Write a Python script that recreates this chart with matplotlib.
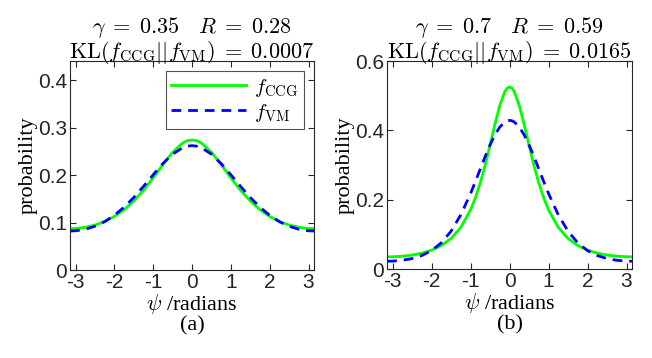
import numpy as np
import matplotlib
matplotlib.use('Agg')
import matplotlib.pyplot as plt

plt.rcParams['mathtext.fontset'] = 'cm'

# psi values (radians) where the curves were read, panel (a)
psi_a = [-3.14, -3.0, -2.75, -2.5, -2.25, -2.0, -1.75, -1.5, -1.25, -1.0, -0.75, -0.5, -0.25, -0.125,
         0.0, 0.125, 0.25, 0.5, 0.75, 1.0, 1.25, 1.5, 1.75, 2.0, 2.25, 2.5, 2.75, 3.0, 3.14]

# panel (a): gamma = 0.35
ccg_a = [0.0870, 0.0874, 0.0898, 0.0946, 0.1021, 0.1128, 0.1270, 0.1453, 0.1678, 0.1940, 0.2219,
         0.2479, 0.2668, 0.2721, 0.2738, 0.2721, 0.2668, 0.2479, 0.2219, 0.1940, 0.1678, 0.1453,
         0.1270, 0.1128, 0.1021, 0.0946, 0.0898, 0.0874, 0.0870]
vm_a = [0.0821, 0.0825, 0.0857, 0.0921, 0.1018, 0.1151, 0.1322, 0.1527, 0.1760, 0.2005, 0.2241,
        0.2439, 0.2571, 0.2606, 0.2618, 0.2606, 0.2571, 0.2439, 0.2241, 0.2005, 0.1760, 0.1527,
        0.1322, 0.1151, 0.1018, 0.0921, 0.0857, 0.0825, 0.0821]

# panel (b): gamma = 0.7 (denser near the peak)
psi_b = [-3.14, -3.0, -2.75, -2.5, -2.25, -2.0, -1.75, -1.5, -1.25, -1.0, -0.875, -0.75, -0.625, -0.5,
         -0.375, -0.25, -0.125, -0.0625, 0.0, 0.0625, 0.125, 0.25, 0.375, 0.5, 0.625, 0.75, 0.875,
         1.0, 1.25, 1.5, 1.75, 2.0, 2.25, 2.5, 2.75, 3.0, 3.14]
ccg_b = [0.0351, 0.0353, 0.0369, 0.0402, 0.0457, 0.0543, 0.0675, 0.0879, 0.1200, 0.1705, 0.2055,
         0.2484, 0.2993, 0.3569, 0.4170, 0.4716, 0.5108, 0.5215, 0.5252, 0.5215, 0.5108, 0.4716,
         0.4170, 0.3569, 0.2993, 0.2484, 0.2055, 0.1705, 0.1200, 0.0879, 0.0675, 0.0543, 0.0457,
         0.0402, 0.0369, 0.0353, 0.0351]
vm_b = [0.0224, 0.0228, 0.0251, 0.0301, 0.0388, 0.0531, 0.0754, 0.1089, 0.1562, 0.2176, 0.2525,
        0.2886, 0.3244, 0.3579, 0.3869, 0.4095, 0.4238, 0.4275, 0.4287, 0.4275, 0.4238, 0.4095,
        0.3869, 0.3579, 0.3244, 0.2886, 0.2525, 0.2176, 0.1562, 0.1089, 0.0754, 0.0531, 0.0388,
        0.0301, 0.0251, 0.0228, 0.0224]

titles = [r'$\gamma\;=\;0.35\quad R\;=\;0.28$' + '\n' + r'$\mathrm{KL}(f_{\mathrm{CCG}}||f_{\mathrm{VM}})\;=\;0.0007$',
          r'$\gamma\;=\;0.7\quad R\;=\;0.59$' + '\n' + r'$\mathrm{KL}(f_{\mathrm{CCG}}||f_{\mathrm{VM}})\;=\;0.0165$']
panels = ['(a)', '(b)']
ylims = [(0, 0.44), (0, 0.6)]
yticks = [[0, 0.1, 0.2, 0.3, 0.4], [0, 0.2, 0.4, 0.6]]
xticks = [-3, -2, -1, 0, 1, 2, 3]

fig = plt.figure(figsize=(6.52, 3.58), dpi=100)
ax1 = fig.add_axes([0.1074, 0.2458, 0.3742, 0.5838])
ax2 = fig.add_axes([0.5936, 0.2486, 0.3758, 0.5810])

data = [(psi_a, ccg_a, vm_a), (psi_b, ccg_b, vm_b)]
for i, ax in enumerate([ax1, ax2]):
    x, ccg, vm = data[i]
    ax.plot(x, ccg, color='#00ff00', lw=2.0, label=r'$f_{\mathrm{CCG}}$')
    ax.plot(x, vm, color='#0000ff', lw=2.0, ls=(0, (3.5, 2.5)), label=r'$f_{\mathrm{VM}}$')
    ax.set_xlim(-np.pi, np.pi)
    ax.set_ylim(*ylims[i])
    ax.set_xticks(xticks)
    ax.set_xticklabels([str(t) for t in xticks])
    ax.set_yticks(yticks[i])
    ax.set_yticklabels(['0' if t == 0 else '%g' % t for t in yticks[i]])
    ax.tick_params(direction='in', top=True, right=True, length=4, width=0.8,
                   labelsize=15, colors='#262626', pad=2)
    for s in ax.spines.values():
        s.set_color('#262626')
        s.set_linewidth(0.8)
    for lab in ax.get_xticklabels() + ax.get_yticklabels():
        lab.set_family('Liberation Sans')
    ax.set_title(titles[i], fontsize=16, linespacing=0.95, pad=2)
    ax.set_ylabel('probability', family='Liberation Serif', fontsize=16, labelpad=0)
    ax.set_xlabel(r'$\psi$ /radians' + '\n' + panels[i], family='Liberation Serif',
                  fontsize=16, labelpad=0, linespacing=1.0)

leg = ax1.legend(loc='upper right', fontsize=15, frameon=True, fancybox=False,
                 edgecolor='#262626', handlelength=3.6, borderaxespad=0.5, borderpad=0.25,
                 labelspacing=0.15, handletextpad=0.4)
leg.get_frame().set_linewidth(0.8)

fig.savefig('out.png', dpi=100)
